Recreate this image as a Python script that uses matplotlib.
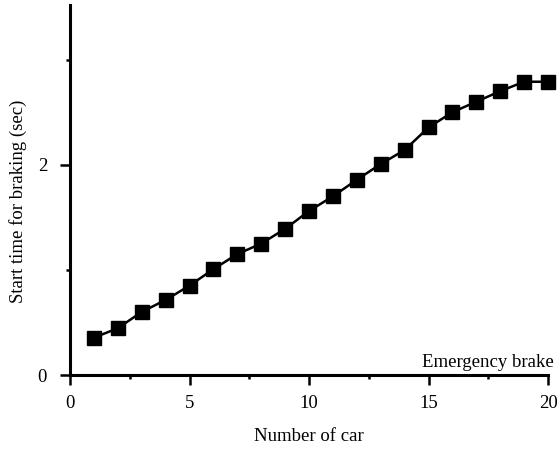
import matplotlib
matplotlib.use("Agg")
import matplotlib.pyplot as plt
from matplotlib.ticker import MultipleLocator

cars = list(range(1, 21))
start_time = [0.355, 0.445, 0.60, 0.714, 0.85, 1.007, 1.15, 1.25, 1.39, 1.56,
              1.70, 1.857, 2.007, 2.14, 2.355, 2.50, 2.60, 2.70, 2.79, 2.79]
x_ticks = [0, 5, 10, 15, 20]
y_ticks = [0, 2]

plt.rcParams['font.family'] = ['Liberation Serif', 'DejaVu Serif']

fig = plt.figure(figsize=(5.57, 4.50), dpi=100)
ax = fig.add_axes([70/557, 1-375/450, (548-70)/557, (375-5)/450])

ax.plot(cars, start_time, color='black', lw=1.8, marker='s', ms=9.5,
        mfc='black', mec='black', clip_on=False, zorder=3)

ax.set_xlim(0, 20)
ax.set_ylim(0, 3.52)
ax.set_xticks(x_ticks)
ax.set_yticks(y_ticks)
ax.xaxis.set_minor_locator(MultipleLocator(2.5))
ax.yaxis.set_minor_locator(MultipleLocator(1))

for s in ['top', 'right']:
    ax.spines[s].set_visible(False)
for s in ['left', 'bottom']:
    ax.spines[s].set_linewidth(2.2)

fs = 13.5
ax.tick_params(axis='both', which='major', direction='out', length=7.5, width=1.8,
               labelsize=fs, color='black')
ax.tick_params(axis='both', which='minor', direction='out', length=3, width=1.8)
ax.tick_params(axis='x', which='major', pad=7)
ax.tick_params(axis='y', which='major', pad=9)

ax.set_xlabel('Number of car', fontsize=fs)
ax.set_ylabel('Start time for braking (sec)', fontsize=fs)
ax.xaxis.set_label_coords(0.5, -0.143)
ax.yaxis.set_label_coords(-0.09, 0.47)

ax.text(20.25, 0.04, 'Emergency brake', ha='right', va='bottom', fontsize=fs)

fig.savefig('out.png', dpi=100)
